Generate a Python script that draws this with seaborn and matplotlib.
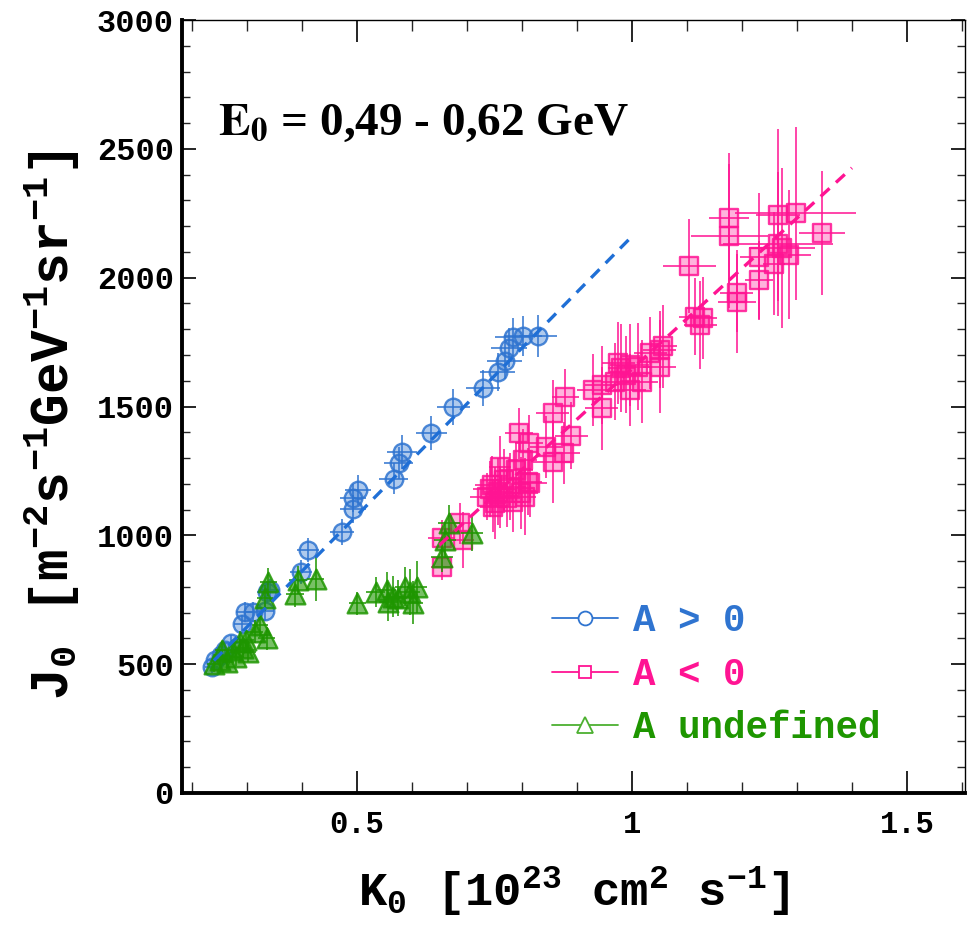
import numpy as np
import pandas as pd
import matplotlib
matplotlib.use("Agg")
import matplotlib.pyplot as plt
import seaborn as sns
from matplotlib.ticker import MultipleLocator, FixedLocator
from matplotlib.lines import Line2D

# ---------------- data ----------------
blue_k = [0.236, 0.242, 0.253, 0.260, 0.271, 0.291, 0.296, 0.311, 0.333, 0.336, 0.342,
          0.398, 0.411, 0.473, 0.493, 0.493, 0.502, 0.567, 0.576, 0.582, 0.635, 0.675,
          0.729, 0.756, 0.769, 0.776, 0.784, 0.802, 0.829]
blue_j = [489, 516, 536, 555, 582, 656, 703, 703, 707, 780, 788,
          858, 943, 1013, 1103, 1146, 1177, 1219, 1281, 1323, 1397, 1498,
          1572, 1634, 1677, 1728, 1770, 1774, 1774]
blue_xerr = [0.012, 0.012, 0.013, 0.013, 0.014, 0.015, 0.016, 0.016, 0.017, 0.017, 0.018,
             0.020, 0.020, 0.022, 0.023, 0.023, 0.024, 0.026, 0.026, 0.027, 0.028, 0.030,
             0.031, 0.032, 0.032, 0.033, 0.033, 0.034, 0.035]
blue_yerr = [25, 25, 28, 28, 30, 35, 38, 38, 40, 42, 42,
             45, 48, 50, 55, 55, 58, 60, 62, 65, 65, 68,
             70, 72, 72, 75, 75, 78, 80]

pink_k = [0.654, 0.654, 0.687, 0.693, 0.736, 0.748, 0.745, 0.757, 0.761, 0.772, 0.778,
          0.784, 0.790, 0.795, 0.799, 0.802, 0.805, 0.813, 0.815, 0.844, 0.856, 0.856,
          0.876, 0.879, 0.890, 0.930, 0.945, 0.945, 0.969, 0.975, 0.981, 0.990, 0.996,
          0.996, 1.011, 1.018, 1.033, 1.051, 1.057, 1.051, 1.115, 1.124, 1.130, 1.104,
          1.177, 1.177, 1.191, 1.191, 1.231, 1.231, 1.259, 1.265, 1.265, 1.272, 1.286,
          1.298, 1.345, 0.760, 0.751, 0.811, 0.742, 0.767]
pink_j = [878, 989, 1047, 982, 1150, 1111, 1196, 1170, 1264, 1144, 1189,
          1131, 1254, 1396, 1163, 1293, 1150, 1358, 1202, 1342, 1474, 1286,
          1319, 1536, 1386, 1564, 1584, 1493, 1597, 1668, 1649, 1623, 1662,
          1565, 1655, 1597, 1707, 1720, 1733, 1655, 1849, 1817, 1843, 2046,
          2233, 2162, 1940, 1907, 2082, 1991, 2054, 2244, 2131, 2114, 2089,
          2250, 2173, 1150, 1126, 1207, 1180, 1215]
pink_xerr = [0.020, 0.025, 0.020, 0.020, 0.030, 0.025, 0.030, 0.025, 0.020, 0.025, 0.030,
             0.020, 0.030, 0.025, 0.030, 0.025, 0.020, 0.025, 0.030, 0.030, 0.030, 0.035,
             0.030, 0.025, 0.030, 0.030, 0.030, 0.030, 0.025, 0.030, 0.025, 0.030, 0.035,
             0.030, 0.025, 0.030, 0.030, 0.030, 0.025, 0.030, 0.030, 0.030, 0.025, 0.048,
             0.036, 0.070, 0.030, 0.035, 0.034, 0.025, 0.020, 0.040, 0.100, 0.060, 0.040,
             0.110, 0.042, 0.025, 0.020, 0.025, 0.030, 0.025]
pink_yerr = [50, 70, 80, 110, 90, 100, 110, 130, 120, 110, 130,
             120, 110, 100, 140, 120, 150, 110, 130, 120, 130, 160,
             120, 110, 130, 140, 150, 160, 150, 160, 170, 150, 160,
             140, 170, 160, 140, 150, 160, 180, 150, 170, 160, 182,
             252, 280, 150, 200, 245, 150, 200, 334, 280, 310, 250,
             336, 240, 120, 140, 130, 110, 120]

green_k = [0.240, 0.251, 0.254, 0.263, 0.272, 0.281, 0.287, 0.293, 0.299, 0.302, 0.315,
           0.324, 0.336, 0.333, 0.339, 0.387, 0.393, 0.425, 0.501, 0.534, 0.554, 0.565,
           0.557, 0.575, 0.587, 0.596, 0.609, 0.602, 0.655, 0.660, 0.667, 0.709]
green_j = [501, 516, 555, 510, 555, 529, 587, 562, 594, 549, 626,
           652, 601, 756, 820, 773, 827, 831, 736, 780, 788, 762,
           743, 756, 801, 781, 799, 739, 917, 982, 1047, 1008]
green_xerr = [0.012, 0.012, 0.012, 0.013, 0.013, 0.013, 0.014, 0.014, 0.014, 0.014, 0.015,
              0.015, 0.015, 0.015, 0.016, 0.016, 0.016, 0.016, 0.016, 0.017, 0.017, 0.017,
              0.017, 0.017, 0.018, 0.018, 0.018, 0.018, 0.020, 0.020, 0.020, 0.020]
green_yerr = [30, 30, 35, 30, 35, 35, 40, 40, 40, 40, 45,
              45, 45, 50, 55, 50, 55, 85, 45, 60, 70, 80,
              75, 70, 75, 90, 100, 85, 60, 70, 70, 70]

fit_blue_k = [0.24, 1.00]
fit_blue_j = [514, 2160]
fit_pink_k = [0.65, 1.40]
fit_pink_j = [962, 2426]

x_ticks = [0.5, 1.0, 1.5]
x_ticklabels = ["0.5", "1", "1.5"]
y_ticks = [0, 500, 1000, 1500, 2000, 2500, 3000]

labels = ["A > 0", "A < 0", "A undefined"]
title_txt = r"$\mathbf{E_0}$ = 0,49 - 0,62 GeV"
xlabel_txt = r"K$_\mathbf{0}$ [10$^\mathbf{23}$ cm$^\mathbf{2}$ s$^\mathbf{-1}$]"
ylabel_txt = r"J$_\mathbf{0}$ [m$^\mathbf{-2}$s$^\mathbf{-1}$GeV$^\mathbf{-1}$sr$^\mathbf{-1}$]"

# ---------------- style ----------------
sns.set_theme(style="white")
plt.rcParams["font.family"] = ["Liberation Mono", "DejaVu Sans"]
plt.rcParams["font.weight"] = "bold"
plt.rcParams["mathtext.fontset"] = "custom"
plt.rcParams["mathtext.rm"] = "Liberation Mono:bold"
plt.rcParams["mathtext.bf"] = "Liberation Mono:bold"
plt.rcParams["mathtext.it"] = "Liberation Mono:bold"

BLUE = "#2f74d0"
PINK = "#ff1493"
GREEN = "#1e9600"

df_b = pd.DataFrame({"K": blue_k, "J": blue_j, "xe": blue_xerr, "ye": blue_yerr})
df_p = pd.DataFrame({"K": pink_k, "J": pink_j, "xe": pink_xerr, "ye": pink_yerr})
df_g = pd.DataFrame({"K": green_k, "J": green_j, "xe": green_xerr, "ye": green_yerr})
df_fb = pd.DataFrame({"K": fit_blue_k, "J": fit_blue_j})
df_fp = pd.DataFrame({"K": fit_pink_k, "J": fit_pink_j})

fig = plt.figure(figsize=(9.67, 9.25), dpi=100)
ax = fig.add_axes([182 / 967, 132 / 925, 783 / 967, 773 / 925])

def rgba(c, a):
    r, g, b = matplotlib.colors.to_rgb(c)
    return (r, g, b, a)

groups = [
    (df_p, PINK, "s", 150, 0.32, 2),
    (df_b, BLUE, "o", 160, 0.38, 3),
    (df_g, GREEN, "^", 200, 0.60, 4),
]
for df, col, mk, s, a, z in groups:
    ax.errorbar(df["K"], df["J"], xerr=df["xe"], yerr=df["ye"], fmt="none",
                ecolor=rgba(col, 0.85), elinewidth=1.3, capsize=0, zorder=z)
    sns.scatterplot(data=df, x="K", y="J", ax=ax, marker=mk, s=s,
                    color=col, facecolor=rgba(col, a), edgecolor=rgba(col, 0.85),
                    linewidth=1.7, zorder=z + 0.5, legend=False)

for df, col in [(df_fb, "#1f6fd6"), (df_fp, PINK)]:
    sns.lineplot(data=df, x="K", y="J", ax=ax, color=col, linewidth=2.4,
                 linestyle=(0, (3.6, 2.6)), zorder=6, legend=False)

ax.set_xlim(0.182, 0.182 + 783 / 550)
ax.set_ylim(0, 3000)

ax.xaxis.set_major_locator(FixedLocator(x_ticks))
ax.set_xticklabels(x_ticklabels)
ax.xaxis.set_minor_locator(MultipleLocator(0.1))
ax.yaxis.set_major_locator(FixedLocator(y_ticks))
ax.yaxis.set_minor_locator(MultipleLocator(100))

ax.tick_params(axis="x", which="major", direction="in", length=16, width=1.2,
               top=True, bottom=True, labelsize=22, pad=12, colors="black")
ax.tick_params(axis="x", which="minor", direction="in", length=8, width=1.0,
               top=True, bottom=True)
ax.tick_params(axis="y", which="major", direction="in", length=10, width=1.2,
               left=True, right=True, labelsize=23, pad=6, colors="black")
ax.tick_params(axis="y", which="minor", direction="in", length=6, width=1.0,
               left=True, right=True)
for lab in ax.get_xticklabels() + ax.get_yticklabels():
    lab.set_fontweight("bold")

for side in ["left", "bottom"]:
    ax.spines[side].set_linewidth(2.8)
    ax.spines[side].set_color("black")
for side in ["top", "right"]:
    ax.spines[side].set_linewidth(1.0)
    ax.spines[side].set_color("black")

ax.set_xlabel(xlabel_txt, fontsize=34, fontweight="bold", labelpad=18, color="black")
ax.set_ylabel(ylabel_txt, fontsize=38, fontweight="bold", color="black")
ax.yaxis.set_label_coords(-0.128, 0.476)

ax.text(0.046, 0.866, title_txt, transform=ax.transAxes, fontsize=34,
        family="Liberation Serif", fontweight="bold", math_fontfamily="stix",
        va="center", ha="left", color="black")

handles = [
    Line2D([], [], color=BLUE, lw=1.3, marker="o", markersize=10,
           markerfacecolor="white", markeredgecolor=BLUE, markeredgewidth=1.3),
    Line2D([], [], color=PINK, lw=1.3, marker="s", markersize=9,
           markerfacecolor="white", markeredgecolor=PINK, markeredgewidth=1.3),
    Line2D([], [], color="#4cb030", lw=1.3, marker="^", markersize=11,
           markerfacecolor="white", markeredgecolor="#4cb030", markeredgewidth=1.3),
]
leg = ax.legend(handles, labels, loc="center left", bbox_to_anchor=(0.473, 0.153),
                frameon=False, fontsize=27, handlelength=1.75, handletextpad=0.4,
                labelspacing=0.47, borderpad=0, borderaxespad=0)
for t, c in zip(leg.get_texts(), [BLUE, PINK, GREEN]):
    t.set_color(c)
    t.set_fontweight("bold")

fig.savefig("out.png", dpi=100)
